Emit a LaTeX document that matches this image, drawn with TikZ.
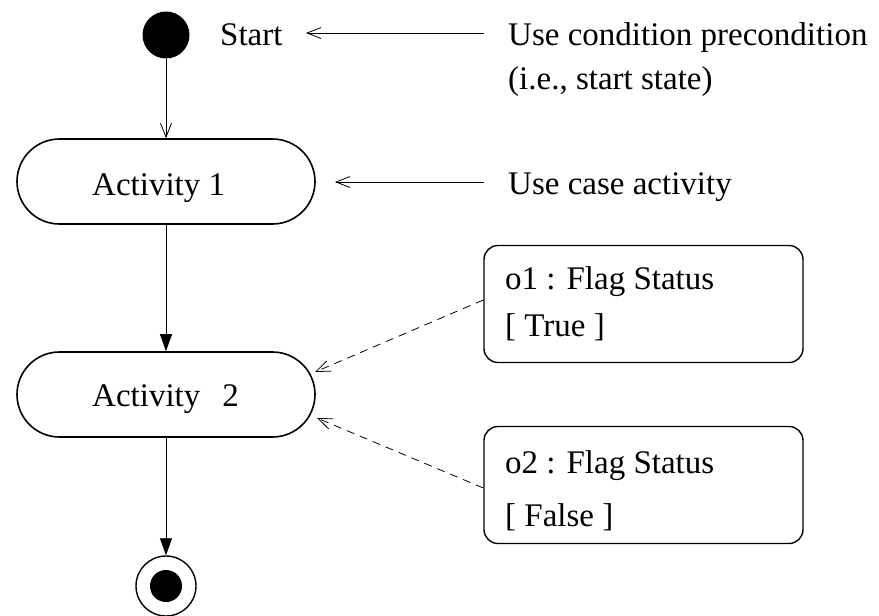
\documentclass[tikz,border=0pt]{standalone}
\usepackage{fontspec}
\setmainfont{Liberation Serif}
\usetikzlibrary{arrows.meta,shapes.misc}
\begin{document}
\begin{tikzpicture}[x=1pt,y=-1pt,
  txt/.style={font=\fontsize{33}{36}\selectfont, inner sep=0pt, anchor=base west},
  activity/.style={draw, line width=1.6pt, rounded rectangle, minimum width=298pt, minimum height=85pt, inner sep=0pt},
  objbox/.style={draw, line width=1.4pt, rounded corners=14pt, minimum width=319pt, minimum height=117pt},
  openarr/.style={-{Straight Barb[length=14pt,width=11pt]}, line width=0.8pt},
  filledarr/.style={-{Triangle[length=17pt,width=12pt]}, line width=0.8pt},
  dasharr/.style={-{Straight Barb[length=14pt,width=11pt]}, line width=0.8pt, dash pattern=on 8pt off 6pt}
]
\useasboundingbox (0,0) rectangle (879,616);
% nodes
\node[circle, fill=black, minimum size=47pt, inner sep=0pt] (start) at (166,35) {};
\node[txt] (starttxt) at (220,45) {Start};
\node[txt] (ucp) at (508,45) {Use condition precondition};
\node[txt] (ss) at (508,89) {(i.e., start state)};
\node[activity] (a1) at (166,181.5) {};
\node[txt] (a1t) at (92,195) {Activity 1};
\node[txt] (uca) at (508,194) {Use case activity};
\node[activity] (a2) at (166,394.5) {};
\node[txt] (a2t) at (92,406) {Activity\hspace{22pt}2};
\node[objbox] (o1) at (643.5,304) {};
\node[txt] (o1a) at (505,289) {o1 : Flag Status};
\node[txt] (o1b) at (505,336) {[ True ]};
\node[objbox] (o2) at (643.5,485) {};
\node[txt] (o2a) at (505,473) {o2 : Flag Status};
\node[txt] (o2b) at (505,526) {[ False ]};
\node[circle, draw, line width=1.4pt, minimum size=60pt, inner sep=0pt] (endo) at (166,586) {};
\node[circle, fill=black, minimum size=32pt, inner sep=0pt] (endi) at (166,586) {};
% free ends
\coordinate (c1s) at (484,33);
\coordinate (c1e) at (306,33);
\coordinate (c2s) at (484,182);
\coordinate (c2e) at (335,182);
% connectors
\draw[openarr] (c1s) -- (c1e);
\draw[openarr] (c2s) -- (c2e);
\draw[openarr] (start.south) -- (a1.north);
\draw[filledarr] (a1.south) -- (a2.north);
\draw[filledarr] (a2.south) -- (endo.north);
\draw[dasharr] (o1.west |- 0,300) -- (315,372);
\draw[dasharr] (o2.west |- 0,488) -- (317,418);
\end{tikzpicture}
\end{document}
